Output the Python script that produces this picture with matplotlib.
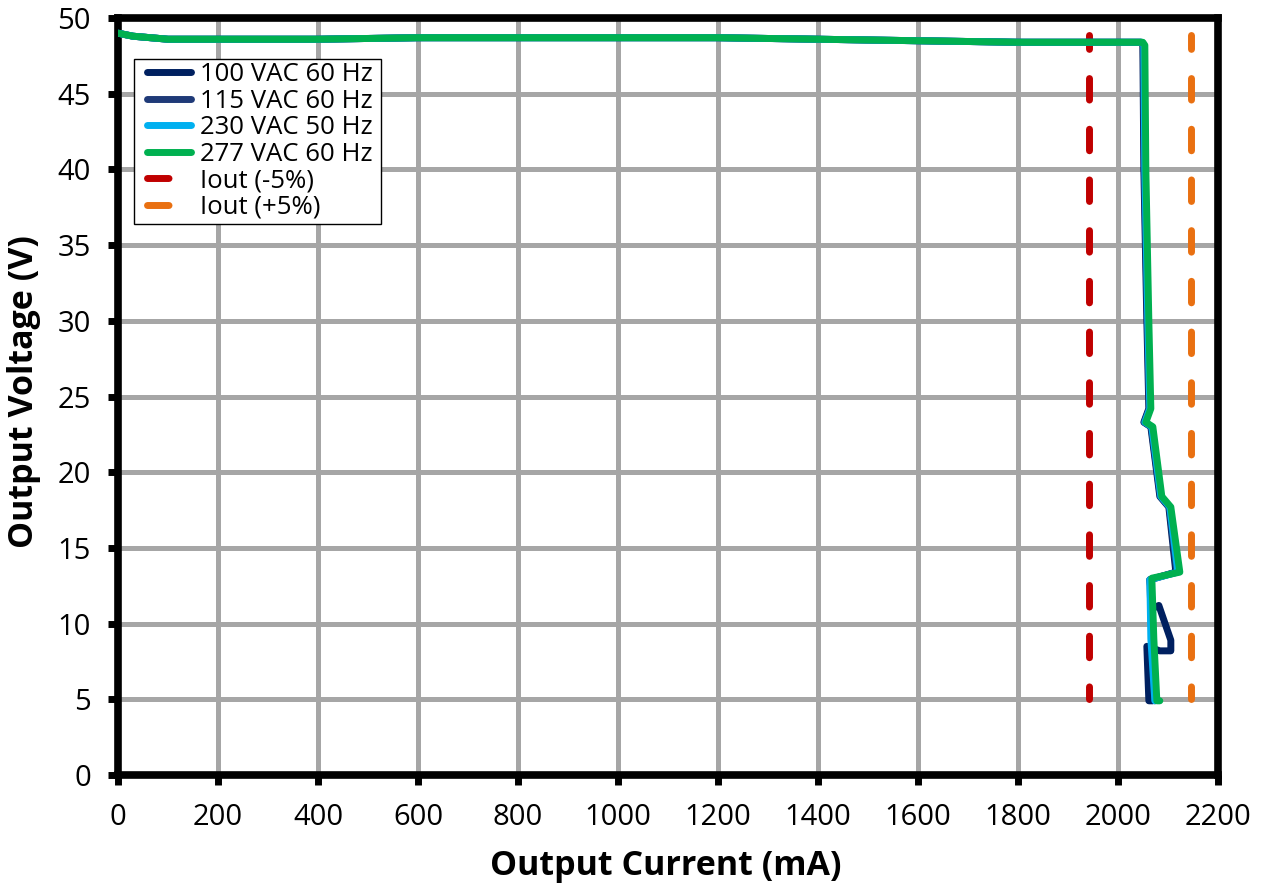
import matplotlib
matplotlib.use("Agg")
import matplotlib.pyplot as plt
from matplotlib.patches import Rectangle

plt.rcParams['font.family'] = ['Open Sans', 'DejaVu Sans']

# Data (mA, V)
i_100 = [0, 30, 100, 200, 400, 600, 800, 1000, 1200, 1400, 1600, 1800, 1950, 2046, 2050, 2052, 2058, 2062, 2052, 2066, 2084, 2102, 2116, 2064, 2070, 2082, 2106, 2106, 2084, 2058, 2062, 2070]
v_100 = [49.0, 48.8, 48.6, 48.6, 48.6, 48.7, 48.7, 48.7, 48.7, 48.6, 48.5, 48.4, 48.4, 48.4, 48.2, 40.0, 30.0, 24.2, 23.3, 23.0, 18.4, 17.7, 13.4, 12.9, 11.0, 11.2, 8.9, 8.2, 8.2, 8.5, 4.9, 4.9]
i_115 = [0, 30, 100, 200, 400, 600, 800, 1000, 1200, 1400, 1600, 1800, 1950, 2047, 2051, 2053, 2059, 2063, 2053, 2067, 2085, 2103, 2118, 2064, 2068, 2074]
v_115 = [49.0, 48.8, 48.6, 48.6, 48.6, 48.7, 48.7, 48.7, 48.7, 48.6, 48.5, 48.4, 48.4, 48.4, 48.2, 40.0, 30.0, 24.2, 23.3, 23.0, 18.4, 17.7, 13.4, 12.9, 9.0, 4.9]
i_230 = [0, 30, 100, 200, 400, 600, 800, 1000, 1200, 1400, 1600, 1800, 1950, 2048, 2052, 2054, 2060, 2064, 2054, 2068, 2086, 2104, 2120, 2064, 2066, 2074]
v_230 = [49.0, 48.8, 48.6, 48.6, 48.6, 48.7, 48.7, 48.7, 48.7, 48.6, 48.5, 48.4, 48.4, 48.4, 48.2, 40.0, 30.0, 24.2, 23.3, 23.0, 18.4, 17.7, 13.4, 12.9, 9.0, 4.9]
i_277 = [0, 30, 100, 200, 400, 600, 800, 1000, 1200, 1400, 1600, 1800, 1950, 2050, 2054, 2056, 2062, 2066, 2056, 2070, 2088, 2106, 2124, 2068, 2072, 2078, 2084]
v_277 = [49.0, 48.8, 48.6, 48.6, 48.6, 48.7, 48.7, 48.7, 48.7, 48.6, 48.5, 48.4, 48.4, 48.4, 48.2, 40.0, 30.0, 24.2, 23.3, 23.0, 18.4, 17.7, 13.4, 13.0, 9.0, 4.9, 4.9]
iout_minus = [1943, 1943]
iout_plus = [2147, 2147]
iout_v = [48.85, 5.0]

x_ticks = list(range(0, 2201, 200))
y_ticks = list(range(0, 51, 5))

fig = plt.figure(figsize=(12.62, 8.84), dpi=100)
ax = fig.add_axes([0.0935, 0.1233, 0.8715, 0.8563])

lw = 5
kw = dict(lw=lw, solid_joinstyle='round', solid_capstyle='round')
ax.plot(i_100, v_100, color='#002060', label='100 VAC 60 Hz', zorder=3, **kw)
ax.plot(i_115, v_115, color='#1F3A78', label='115 VAC 60 Hz', zorder=4, **kw)
ax.plot(i_230, v_230, color='#00B0F0', label='230 VAC 50 Hz', zorder=5, **kw)
ax.plot(i_277, v_277, color='#00B050', label='277 VAC 60 Hz', zorder=6, **kw)
dash = (1.1, (3.1, 4.2))
ax.plot(iout_minus, iout_v, color='#C00000', lw=5, ls=dash, dash_capstyle='round', label='Iout (-5%)', zorder=2)
ax.plot(iout_plus, iout_v, color='#E97011', lw=5, ls=dash, dash_capstyle='round', label='Iout (+5%)', zorder=2)

ax.set_xlim(0, 2200)
ax.set_ylim(0, 50)
ax.set_xticks(x_ticks)
ax.set_yticks(y_ticks)
ax.tick_params(labelsize=21, length=7.5, width=5, direction='out')
ax.tick_params(axis='x', pad=13)
ax.tick_params(axis='y', pad=12)
ax.grid(True, color='#A6A6A6', lw=3.6)
ax.set_axisbelow(True)
for s in ax.spines.values():
    s.set_linewidth(5.5)
    s.set_color('black')

ax.set_xlabel('Output Current (mA)', fontsize=24.5, fontweight='bold')
ax.set_ylabel('Output Voltage (V)', fontsize=24.5, fontweight='bold')
ax.xaxis.set_label_coords(0.4977, -0.0978)
ax.yaxis.set_label_coords(-0.070, 0.507)

# legend frame
frame = Rectangle((134 / 1262, 1 - 224 / 884), 247 / 1262, 165 / 884, transform=fig.transFigure,
                  facecolor='white', edgecolor='black', lw=1, zorder=9)
ax.add_patch(frame)
frame.set_clip_on(False)

leg = ax.legend(loc='upper left', bbox_to_anchor=(146.5 / 1262, 1 - 62 / 884),
                bbox_transform=fig.transFigure, fontsize=18.5, frameon=False,
                borderpad=0, labelspacing=0.06, handlelength=1.75, handletextpad=0.33,
                borderaxespad=0)
leg.set_zorder(10)
for ln in leg.get_lines()[4:]:
    ln.set_linestyle((0, (3.1, 4.2)))

fig.savefig('out.png', dpi=100)
